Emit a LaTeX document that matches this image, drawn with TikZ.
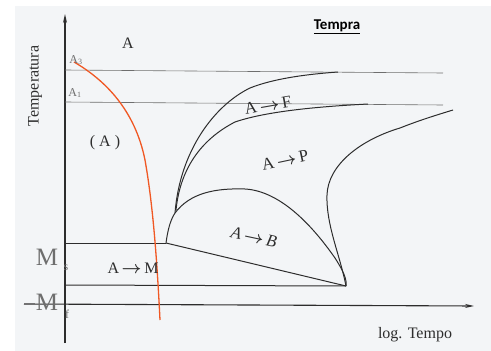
\documentclass[tikz,border=0pt]{standalone}
\usepackage{amsmath}
\usepackage{fontspec}
\setmainfont{Liberation Serif}
\newfontfamily\calib{Carlito}
\usetikzlibrary{arrows.meta}
\definecolor{Paper}{RGB}{243,245,247}
\definecolor{Ink}{RGB}{45,45,45}
\definecolor{Soft}{RGB}{110,110,110}
\definecolor{Quench}{RGB}{240,88,36}
\newcommand{\tto}{$\boldsymbol{\rightarrow}$}

\begin{document}
\begin{tikzpicture}[x=1pt,y=-1pt,
 ax/.style={-{Stealth[length=9pt,width=4pt]},line width=1.1pt,Ink},
 iso/.style={line width=.6pt,Soft},
 c/.style={line width=1pt,Ink},
 t/.style={font=\fontsize{17}{17}\selectfont,text=Ink,inner sep=0pt},
 g/.style={font=\fontsize{25}{25}\selectfont,text=Soft,inner sep=0pt}]
\useasboundingbox (0,0) rectangle (491,351);
\fill[Paper] (15,6) rectangle (491,351);
% points
\coordinate (o) at (65,343);
\coordinate (top) at (65,14);
\coordinate (xl) at (24,304);
\coordinate (xr) at (474,306);
\coordinate (ms) at (166,243);
\coordinate (nose) at (175,213);
\coordinate (end) at (346,286);
% axes
\draw[ax] (o)--(top);
\draw[ax] (xl)--(xr);
% critical lines
\draw[iso] (65,70)--(443,73);
\draw[iso] (65,102)--(443,105);
\draw[c] (65,243)--(ms);
\draw[c] (65,285)--(end);
\draw[c] (ms)--(end);
% transformation curves
\draw[c] (ms) .. controls (168,228) and (171,219) .. (nose)
 .. controls (190,193) and (215,188) .. (245,189)
 .. controls (280,191) and (312,225) .. (335,258)
 .. controls (344,272) and (347,280) .. (end);
\draw[c] (nose) .. controls (180,150) and (215,105) .. (250,88)
 .. controls (275,78) and (310,74) .. (338,72);
\draw[c] (176,210) .. controls (180,170) and (200,140) .. (235,122)
 .. controls (270,110) and (330,106) .. (368,104);
\draw[c] (end) .. controls (340,255) and (326,225) .. (327,195)
 .. controls (328,165) and (360,140) .. (400,128)
 .. controls (420,120) and (440,114) .. (453,110);
% cooling
\draw[line width=1.3pt,Quench] (74,62) .. controls (105,80) and (135,110) .. (145,160)
 .. controls (153,205) and (157,260) .. (160,320);
% labels
\node[t,rotate=90,font=\fontsize{16}{16}\selectfont] (temp) at (35,86) {Temperatura};
\node[t,font=\fontsize{16}{16}\selectfont] (aus) at (128,43) {A};
\node[t,font=\fontsize{12}{12}\selectfont,text=Soft] (a3) at (76,60) {A\textsubscript{3}};
\node[t,font=\fontsize{12}{12}\selectfont,text=Soft] (a1) at (75,93) {A\textsubscript{1}};
\node[t,font=\fontsize{16}{16}\selectfont] (ausm) at (105,143) {( A )};
\node[t,rotate=10] (af) at (268,105) {A\,\tto\,F};
\node[t,rotate=12] (ap) at (285,160) {A\,\tto\,P};
\node[t,rotate=-12] (ab) at (254,237) {\itshape A\,\tto\,B};
\node[t,font=\fontsize{16}{16}\selectfont] (am) at (133,268) {A\,\tto\,M};
\node[g] (msl) at (47,257) {M};
\node[t,text=Soft,font=\fontsize{12}{12}\selectfont] (mss) at (66,268) {s};
\node[g] (mfl) at (47,302) {M};
\node[t,text=Soft,font=\fontsize{12}{12}\selectfont] (mfs) at (67,314) {f};
\node[t,font=\fontsize{16}{16}\selectfont] (lt) at (415,335) {log. Tempo};
\node[t,font=\calib\bfseries\fontsize{15}{15}\selectfont,text=black] (tit) at (337,27) {\underline{Tempra}};
\end{tikzpicture}
\end{document}
